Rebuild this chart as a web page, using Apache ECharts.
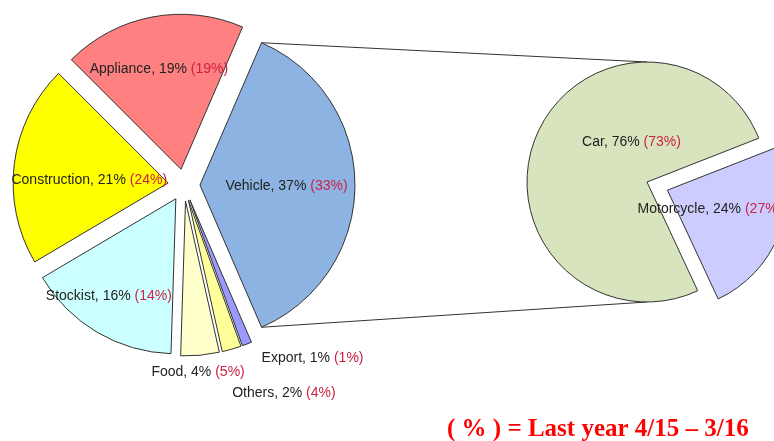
<!DOCTYPE html>
<html>
<head>
<meta charset="utf-8">
<script src="https://cdn.jsdelivr.net/npm/echarts@6/dist/echarts.min.js"></script>
<style>
  html, body { margin: 0; padding: 0; background: #fff; }
  #chart { width: 774px; height: 441px; }
</style>
</head>
<body>
<div id="chart"></div>
<script>
// 左边大饼：本年占比 / 去年占比（括号内）
const mainNames = ['Appliance', 'Vehicle', 'Export', 'Others', 'Food', 'Stockist', 'Construction']
const mainValues = [19, 37, 1, 2, 4, 16, 21]
const mainLastYear = [19, 33, 1, 4, 5, 14, 24]

// 右边小饼：Vehicle 拆分
const subNames = ['Car', 'Motorcycle']
const subValues = [76, 24]
const subLastYear = [73, 27]

const footnote = '( % ) = Last year 4/15 – 3/16'

// 样式
const mainColors = ['#FF8080', '#8DB3E2', '#9999FF', '#FFFF99', '#FFFFCC', '#CCFFFF', '#FFFF00']
const subColors = ['#D7E4BD', '#CCCCFF']
const mainCenter = [184, 185]
const mainRadius = 155
const subCenter = [647, 182]
const subRadius = 120
// 标签相对默认 inside 位置的偏移
const mainLabelShift = [[-7, -21], [6, 1], [93, 83], [73, 115], [5, 91], [-26, 28], [1, 7]]
const subLabelShift = [[43, -16], [-16, -4]]

const vehicleIdx = mainNames.indexOf('Vehicle')
// 让 Vehicle 扇区中线朝正右方
let before = 0
for (let i = 0; i < vehicleIdx; i++) before += mainValues[i]
const mainStart = 3.6 * (before + mainValues[vehicleIdx] / 2)

function labelText (name, v, last) {
  return '{n|' + name + ', ' + v + '% }{r|(' + last + '%)}'
}

const labelStyle = {
  position: 'inside',
  fontFamily: 'Liberation Sans',
  fontSize: 14,
  rich: {
    n: { color: '#222', fontSize: 14, fontFamily: 'Liberation Sans' },
    r: { color: '#CC2244', fontSize: 14, fontFamily: 'Liberation Sans' }
  }
}

// 连接线端点：Vehicle 扇区外弧两端 -> 小饼上下顶点
const off = 16
const halfV = mainValues[vehicleIdx] * 1.8 * Math.PI / 180
const apexX = mainCenter[0] + off
const topPt = [apexX + mainRadius * Math.cos(halfV), mainCenter[1] - mainRadius * Math.sin(halfV)]
const botPt = [apexX + mainRadius * Math.cos(halfV), mainCenter[1] + mainRadius * Math.sin(halfV)]

const chart = echarts.init(document.getElementById('chart'))
chart.setOption({
  animation: false,
  backgroundColor: '#fff',
  title: {
    text: footnote,
    left: 442,
    top: 412,
    textStyle: {
      fontFamily: 'Liberation Serif',
      fontWeight: 'bold',
      fontSize: 25,
      color: '#FF0000'
    }
  },
  graphic: [
    {
      type: 'polyline',
      shape: { points: [topPt, [subCenter[0], subCenter[1] - subRadius]] },
      style: { stroke: '#333', lineWidth: 1, fill: null }
    },
    {
      type: 'polyline',
      shape: { points: [botPt, [subCenter[0], subCenter[1] + subRadius]] },
      style: { stroke: '#333', lineWidth: 1, fill: null }
    }
  ],
  series: [
    {
      type: 'pie',
      center: mainCenter,
      radius: mainRadius,
      startAngle: mainStart,
      clockwise: true,
      selectedMode: 'multiple',
      selectedOffset: off,
      avoidLabelOverlap: false,
      itemStyle: { borderColor: '#333', borderWidth: 1 },
      label: labelStyle,
      labelLine: { show: false },
      emphasis: { disabled: true },
      labelLayout: function (p) {
        const s = mainLabelShift[p.dataIndex]
        return { dx: s[0], dy: s[1] }
      },
      data: mainNames.map(function (n, i) {
        return {
          name: n,
          value: mainValues[i],
          selected: true,
          itemStyle: { color: mainColors[i] },
          label: { formatter: labelText(n, mainValues[i], mainLastYear[i]) }
        }
      })
    },
    {
      type: 'pie',
      center: subCenter,
      radius: subRadius,
      startAngle: 295,
      clockwise: true,
      selectedMode: 'single',
      selectedOffset: 22,
      avoidLabelOverlap: false,
      itemStyle: { borderColor: '#333', borderWidth: 1 },
      label: labelStyle,
      labelLine: { show: false },
      emphasis: { disabled: true },
      labelLayout: function (p) {
        const s = subLabelShift[p.dataIndex]
        return { dx: s[0], dy: s[1] }
      },
      data: subNames.map(function (n, i) {
        return {
          name: n,
          value: subValues[i],
          selected: n === 'Motorcycle',
          itemStyle: { color: subColors[i] },
          label: { formatter: labelText(n, subValues[i], subLastYear[i]) }
        }
      })
    }
  ]
})
</script>
</body>
</html>
